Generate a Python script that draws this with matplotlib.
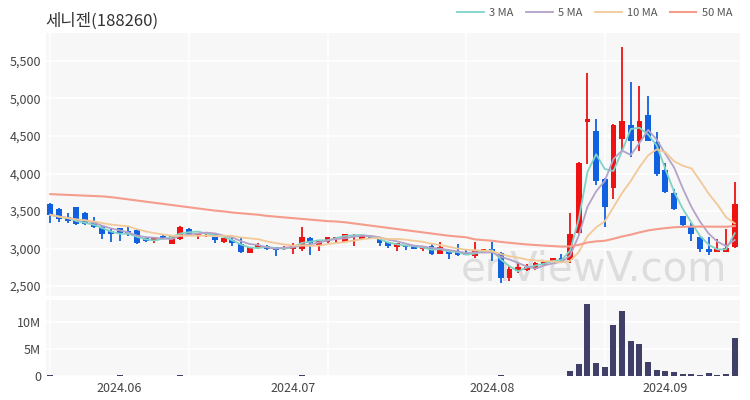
import matplotlib
matplotlib.use("Agg")
import matplotlib.pyplot as plt
import numpy as np
import pandas as pd

plt.rcParams['font.family'] = ['Noto Sans CJK KR', 'DejaVu Sans']

# daily candles, 2024-05-23 .. 2024-09-13
opens = [3600, 3530, 3420, 3550, 3480, 3350, 3290, 3230, 3270, 3230,
         3250, 3140, 3100, 3170, 3060, 3130, 3260, 3180, 3190, 3200,
         3090, 3110, 3060, 2940, 3020, 3030, 3020, 2990, 2990, 2990,
         3140, 3050, 3090, 3130, 3090, 3150, 3130, 3170, 3140, 3090,
         3020, 3050, 3030, 2990, 3030, 2930, 2980, 2950, 2940, 2900,
         2970, 3000, 2940, 2610, 2700, 2720, 2730, 2780, 2820, 2870,
         2850, 3210, 4690, 4570, 3930, 3810, 4460, 4650, 4430, 4780,
         4420, 4050, 3740, 3430, 3300, 3150, 2990, 2960, 2960, 3020]
highs = [3610, 3540, 3470, 3560, 3490, 3420, 3300, 3270, 3280, 3290,
         3260, 3150, 3160, 3180, 3170, 3300, 3270, 3210, 3210, 3200,
         3140, 3150, 3150, 3020, 3070, 3050, 3020, 3040, 3070, 3290,
         3150, 3110, 3160, 3160, 3200, 3190, 3170, 3170, 3140, 3090,
         3070, 3050, 3030, 3020, 3060, 3090, 2980, 3060, 3000, 3090,
         3000, 3090, 2950, 2770, 2820, 2800, 2820, 2830, 2870, 2930,
         3470, 4150, 5340, 4730, 3940, 4660, 5690, 5220, 5170, 5030,
         4550, 4140, 3790, 3430, 3340, 3160, 3150, 3130, 3260, 3890]
lows = [3340, 3350, 3340, 3320, 3320, 3280, 3130, 3090, 3100, 3170,
        3060, 3090, 3070, 3130, 3060, 3120, 3190, 3130, 3150, 3070,
        3070, 3030, 2940, 2940, 2990, 2980, 2900, 2980, 2930, 2970,
        2910, 2970, 3070, 3080, 3090, 3030, 3130, 3140, 3030, 3010,
        2970, 2980, 3000, 2970, 2920, 2930, 2860, 2900, 2910, 2870,
        2970, 2830, 2540, 2570, 2670, 2700, 2720, 2780, 2820, 2840,
        2810, 3190, 4130, 3850, 3290, 3660, 4310, 4220, 4300, 4430,
        3970, 3740, 3520, 3300, 3100, 2950, 2910, 2950, 2950, 3010]
closes = [3450, 3400, 3370, 3330, 3330, 3290, 3200, 3190, 3200, 3200,
          3070, 3100, 3150, 3140, 3170, 3290, 3190, 3200, 3210, 3120,
          3140, 3070, 2950, 3020, 3050, 2990, 2980, 3020, 3050, 3150,
          3070, 3110, 3150, 3160, 3190, 3180, 3170, 3140, 3070, 3030,
          3070, 3020, 3000, 3020, 2930, 3020, 2930, 2910, 2910, 2980,
          3000, 2950, 2610, 2730, 2750, 2760, 2810, 2820, 2870, 2850,
          3190, 4140, 4730, 3900, 3550, 4650, 4700, 4430, 4700, 4430,
          3990, 3750, 3530, 3310, 3190, 3000, 2960, 3000, 3010, 3600]
volumes_m = [0.1, 0.08, 0.06, 0.08, 0.06, 0.05, 0.08, 0.07, 0.1, 0.06,
             0.08, 0.04, 0.05, 0.03, 0.06, 0.12, 0.05, 0.04, 0.03, 0.05,
             0.04, 0.04, 0.06, 0.05, 0.03, 0.03, 0.05, 0.03, 0.06, 0.15,
             0.08, 0.05, 0.04, 0.04, 0.06, 0.05, 0.04, 0.03, 0.04, 0.04,
             0.04, 0.03, 0.03, 0.04, 0.05, 0.06, 0.04, 0.04, 0.03, 0.06,
             0.04, 0.06, 0.2, 0.08, 0.04, 0.03, 0.04, 0.04, 0.05, 0.06,
             0.94, 2.2, 13.5, 2.5, 1.7, 9.6, 12.1, 6.6, 6.0, 2.6,
             1.07, 0.9, 0.7, 0.4, 0.4, 0.2, 0.5, 0.2, 0.45, 7.1]
# 50 MA before a full window exists in the shown range
ma50_head = [3725, 3720, 3715, 3710, 3705, 3700, 3695, 3685, 3670, 3655,
             3640, 3625, 3610, 3595, 3580, 3565, 3550, 3535, 3520, 3505,
             3495, 3480, 3470, 3460, 3450, 3435, 3425, 3415, 3405, 3395,
             3385, 3375, 3365, 3360, 3350, 3335, 3320, 3305, 3290, 3275,
             3260, 3245, 3230, 3215, 3200, 3185, 3170, 3160, 3150]

tick_pos = [8, 28, 51, 71]
tick_labels = ["2024.06", "2024.07", "2024.08", "2024.09"]
grid_pos = [0, 16, 32, 48, 64]

UP = '#ee1212'
DOWN = '#1060e0'
BG = '#f7f7f7'

o = np.array(opens, float)
h = np.array(highs, float)
l = np.array(lows, float)
c = np.array(closes, float)
v = np.array(volumes_m) * 1e6
x = np.arange(len(c))

s = pd.Series(c)
ma3 = s.rolling(3, min_periods=1).mean()
ma5 = s.rolling(5, min_periods=1).mean()
ma10 = s.rolling(10, min_periods=1).mean()
ma50 = s.rolling(50).mean()
ma50[:len(ma50_head)] = ma50_head

fig = plt.figure(figsize=(7.5, 4), dpi=100)
ax = fig.add_axes([0.0613, 0.26, 0.9253, 0.6575])
axv = fig.add_axes([0.0613, 0.06, 0.9253, 0.19], sharex=ax)

for a in (ax, axv):
    a.set_facecolor(BG)
    for sp in a.spines.values():
        sp.set_visible(False)
    a.set_xticks(grid_pos, minor=True)
    a.grid(True, which='minor', axis='x', color='white', lw=1.2)
    a.grid(True, which='major', axis='y', color='white', lw=1.2)
    a.tick_params(axis='both', which='both', length=0, labelsize=9, colors='#444')
    a.set_axisbelow(True)

colors = np.where(c >= o, UP, DOWN)
ax.vlines(x, l, h, color=colors, lw=1.3, zorder=3)
body_h = np.maximum(np.abs(c - o), 15)
ax.bar(x, body_h, bottom=np.minimum(o, c), width=0.68, color=colors, zorder=4)

ax.plot(x, ma3, color='#7fd3c6', lw=1.3, label='3 MA', zorder=5)
ax.plot(x, ma5, color='#b3a3c9', lw=1.3, label='5 MA', zorder=5)
ax.plot(x, ma10, color='#f2c996', lw=1.3, label='10 MA', zorder=5)
ax.plot(x, ma50, color='#f59c8c', lw=1.5, label='50 MA', zorder=5)

ax.text(0.79, 0.1, 'enViewV.com', transform=ax.transAxes, fontsize=29,
        color='#c8c8c8', alpha=0.55, ha='center', va='center', zorder=2,
        family=['DejaVu Sans'])

ax.set_ylim(2367, 5873)
ax.set_yticks([2500, 3000, 3500, 4000, 4500, 5000, 5500])
ax.set_yticklabels([f"{t:,}" for t in ax.get_yticks()])
ax.tick_params(axis='x', labelbottom=False)
ax.set_xlim(-0.5, len(c) - 0.4)

axv.bar(x, v, width=0.7, color='#3f3f68', zorder=3)
axv.set_ylim(0, 14.2e6)
axv.set_yticks([0, 5e6, 10e6])
axv.set_yticklabels(['0', '5M', '10M'])
axv.set_xticks(tick_pos)
axv.set_xticklabels(tick_labels)
axv.tick_params(axis='x', pad=4)

fig.text(0.06, 0.948, '세니젠(188260)', fontsize=12, color='#333', va='center')
ax.legend(loc='upper right', bbox_to_anchor=(0.99, 1.005), bbox_transform=fig.transFigure,
          ncol=4, frameon=False, fontsize=8, handlelength=2.4, columnspacing=1.1,
          handletextpad=0.5, labelcolor='#555')

fig.savefig('out.png', dpi=100)
